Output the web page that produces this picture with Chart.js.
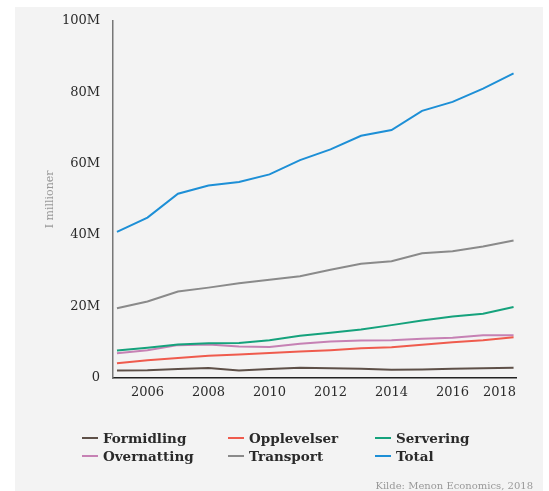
<!DOCTYPE html>
<html lang="no">
<head>
<meta charset="UTF-8">
<title>Omsetning etter næring</title>
<script src="https://cdn.jsdelivr.net/npm/chart.js"></script>
<style>
  html, body { margin: 0; padding: 0; background: #fff; }
  .panel { position: absolute; left: 15px; top: 7px; width: 528px; height: 484px; background: #f3f3f3; }
  #chart { position: absolute; left: 0; top: 0; }
  .legend {
    position: absolute; left: 82px; top: 429px;
    display: grid; grid-template-columns: 146px 147px 150px;
    font: bold 13.5px "DejaVu Serif", serif; color: #2a2a2a;
  }
  .legend .item { display: flex; align-items: center; height: 18px; white-space: nowrap; }
  .legend i { display: inline-block; width: 16px; height: 2px; margin-right: 5px; }
  .source { position: absolute; right: 16px; top: 480px; font: 10px "DejaVu Serif", serif; color: #999; }
</style>
</head>
<body>
<div class="panel"></div>
<canvas id="chart" width="549" height="491"></canvas>
<div class="legend" id="legend"></div>
<div class="source">Kilde: Menon Economics, 2018</div>
<script>
  // omsetning i millioner kroner
  const years = [2005, 2006, 2007, 2008, 2009, 2010, 2011, 2012, 2013, 2014, 2015, 2016, 2017, 2018];
  const formidling  = [2.1, 2.2, 2.5, 2.8, 2.1, 2.5, 2.9, 2.7, 2.6, 2.3, 2.4, 2.6, 2.7, 2.9];
  const opplevelser = [4.1, 5.0, 5.6, 6.2, 6.6, 7.0, 7.4, 7.8, 8.3, 8.6, 9.3, 10.0, 10.6, 11.4];
  const servering   = [7.7, 8.5, 9.4, 9.7, 9.8, 10.6, 11.8, 12.7, 13.6, 14.8, 16.1, 17.2, 18.0, 19.9];
  const overnatting = [6.9, 7.8, 9.2, 9.4, 8.8, 8.7, 9.6, 10.2, 10.5, 10.6, 11.0, 11.3, 12.0, 12.0];
  const transport   = [19.5, 21.4, 24.2, 25.3, 26.5, 27.5, 28.5, 30.3, 32.0, 32.7, 34.9, 35.5, 36.8, 38.5];
  const total       = [40.9, 44.9, 51.6, 53.9, 54.9, 57.0, 61.0, 64.0, 67.8, 69.4, 74.8, 77.3, 81.0, 85.3];

  const xTicks = [2006, 2008, 2010, 2012, 2014, 2016, 2018];
  const yTicks = [0, 20, 40, 60, 80, 100];

  const series = [
    { label: 'Formidling',  values: formidling,  color: '#5e5048' },
    { label: 'Opplevelser', values: opplevelser, color: '#ef5b4d' },
    { label: 'Servering',   values: servering,   color: '#15a27c' },
    { label: 'Overnatting', values: overnatting, color: '#c681b4' },
    { label: 'Transport',   values: transport,   color: '#8a8a8a' },
    { label: 'Total',       values: total,       color: '#1d8fd6' }
  ];

  // html legend in three columns
  const legend = document.getElementById('legend');
  series.forEach(s => {
    const item = document.createElement('span');
    item.className = 'item';
    item.innerHTML = '<i style="background:' + s.color + '"></i>' + s.label;
    legend.appendChild(item);
  });

  // x labels drawn by hand so the last one stays inside the axis
  const xLabels = {
    id: 'xLabels',
    afterDraw(chart) {
      const xs = chart.scales.x;
      const ctx = chart.ctx;
      ctx.save();
      ctx.font = '13px "DejaVu Serif"';
      ctx.fillStyle = '#2a2a2a';
      ctx.textAlign = 'center';
      ctx.textBaseline = 'middle';
      xTicks.forEach(v => {
        const txt = String(v);
        const w = ctx.measureText(txt).width;
        const px = Math.min(xs.getPixelForValue(v), xs.right - w / 2);
        ctx.fillText(txt, px, 393);
      });
      ctx.restore();
    }
  };

  new Chart(document.getElementById('chart'), {
    type: 'line',
    data: {
      datasets: series.map(s => ({
        label: s.label,
        data: years.map((y, i) => ({ x: y, y: s.values[i] })),
        borderColor: s.color,
        backgroundColor: s.color,
        borderWidth: 2,
        pointRadius: 0,
        tension: 0
      }))
    },
    options: {
      responsive: false,
      animation: false,
      layout: { padding: { left: 0, top: 20, right: 33, bottom: 83 } },
      plugins: {
        legend: { display: false },
        tooltip: { enabled: false }
      },
      scales: {
        x: {
          type: 'linear',
          min: 2004.87,
          max: 2018.08,
          afterBuildTicks: s => { s.ticks = xTicks.map(v => ({ value: v })); },
          ticks: { display: false },
          grid: { display: false, drawTicks: false },
          border: { color: '#222', width: 1.5 },
          afterFit: s => { s.height = 30; }
        },
        y: {
          min: 0,
          max: 100,
          afterBuildTicks: s => { s.ticks = yTicks.map(v => ({ value: v })); },
          ticks: {
            padding: 13,
            color: '#2a2a2a',
            font: { family: 'DejaVu Serif', size: 13 },
            callback: v => v === 0 ? '0' : v + 'M'
          },
          grid: { display: false, drawTicks: false },
          border: { color: '#777', width: 1.5 },
          title: {
            display: true,
            text: 'I millioner',
            color: '#999',
            font: { family: 'DejaVu Serif', size: 11 },
            padding: { top: 44, bottom: 0 }
          },
          afterFit: s => { s.width = 113; }
        }
      }
    },
    plugins: [xLabels]
  });
</script>
</body>
</html>
